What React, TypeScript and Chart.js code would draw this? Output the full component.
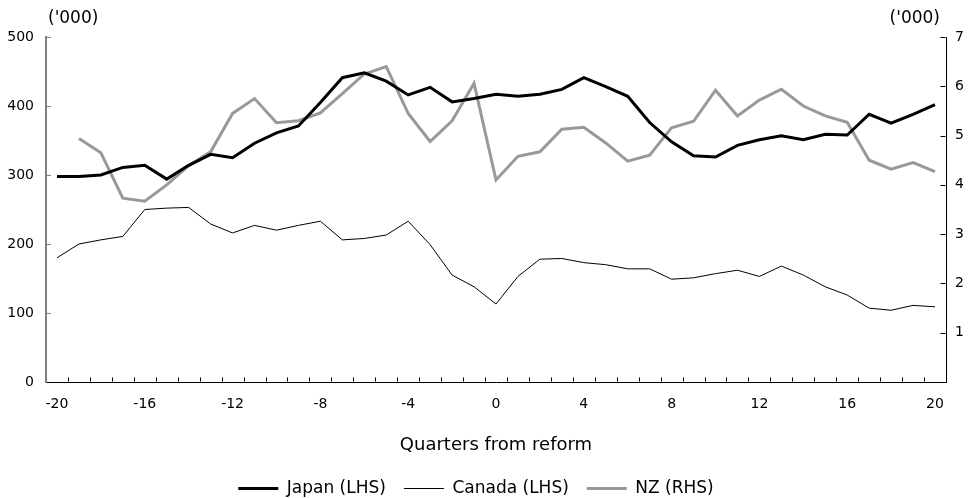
import React, { useEffect, useRef } from 'react';
import { Chart, registerables } from 'chart.js';

Chart.register(...registerables);

const quarters = [
  '-20', '-19', '-18', '-17', '-16', '-15', '-14', '-13', '-12', '-11', '-10',
  '-9', '-8', '-7', '-6', '-5', '-4', '-3', '-2', '-1', '0', '1', '2', '3', '4',
  '5', '6', '7', '8', '9', '10', '11', '12', '13', '14', '15', '16', '17', '18', '19', '20',
];

const japan = [
  298, 298, 300, 311, 314, 294, 314, 330, 325, 346, 361, 371, 405,
  441, 448, 436, 416, 427, 406, 411, 417, 414, 417, 424, 441, 428, 414, 376,
  348, 328, 326, 343, 351, 357, 351, 359, 358, 388, 375, 388, 402,
];

const canada = [
  180, 200, 206, 211, 250, 252, 253, 229, 216, 227, 220, 227, 233,
  206, 208, 213, 233, 199, 155, 138, 113, 153, 178, 179, 173, 170, 164, 164,
  149, 151, 157, 162, 153, 168, 155, 138, 126, 107, 104, 111, 109,
];

const nz = [
  null, 4.94, 4.65, 3.73, 3.67, 4.0, 4.39, 4.67, 5.45, 5.75, 5.26, 5.3, 5.46,
  5.85, 6.25, 6.4, 5.45, 4.88, 5.3, 6.06, 4.1, 4.58, 4.67, 5.13, 5.17, 4.85, 4.48, 4.6,
  5.16, 5.29, 5.92, 5.4, 5.72, 5.94, 5.6, 5.4, 5.27, 4.5, 4.32, 4.45, 4.27,
];

const leftTicks = [0, 100, 200, 300, 400, 500];
const rightTicks = [0, 1, 2, 3, 4, 5, 6, 7];
const unitLabel = "('000)";
const xTitle = 'Quarters from reform';
const seriesNames = ['Japan (LHS)', 'Canada (LHS)', 'NZ (RHS)'];

const FONT = "'DejaVu Sans', sans-serif";

const legendShift = {
  id: 'legendShift',
  afterLayout(chart: any) {
    if (chart.legend) {
      chart.legend.left -= 8;
      chart.legend.right -= 8;
    }
  },
};

const decorPlugin = {
  id: 'decor',
  afterDraw(chart: any) {
    const { ctx, chartArea, scales } = chart;
    const x = scales.x;
    const yl = scales.y;
    const yr = scales.y1;
    ctx.save();
    ctx.lineWidth = 1;
    ctx.strokeStyle = '#000';
    const b = Math.round(chartArea.bottom) - 0.5;
    for (let i = 0; i < quarters.length - 1; i++) {
      const px = Math.round((x.getPixelForValue(i) + x.getPixelForValue(i + 1)) / 2) + 0.5;
      ctx.beginPath();
      ctx.moveTo(px, b);
      ctx.lineTo(px, b - 4);
      ctx.stroke();
    }
    const l = chartArea.left;
    leftTicks.forEach((v) => {
      if (v === 0) return;
      const py = Math.round(yl.getPixelForValue(v)) + 0.5;
      ctx.strokeStyle = '#808080';
      ctx.beginPath();
      ctx.moveTo(l, py);
      ctx.lineTo(l + 5, py);
      ctx.stroke();
    });
    const r = Math.round(chartArea.right) - 0.5;
    rightTicks.forEach((v) => {
      if (v === 0) return;
      const py = Math.round(yr.getPixelForValue(v)) + 0.5;
      ctx.strokeStyle = '#000';
      ctx.beginPath();
      ctx.moveTo(r, py);
      ctx.lineTo(r - 5, py);
      ctx.stroke();
    });
    ctx.fillStyle = '#000';
    ctx.font = `17px ${FONT}`;
    ctx.textBaseline = 'middle';
    ctx.textAlign = 'left';
    ctx.fillText(unitLabel, chartArea.left + 2, 19);
    ctx.textAlign = 'right';
    ctx.fillText(unitLabel, chartArea.right - 6, 19);
    ctx.restore();
  },
};

export default function App() {
  const ref = useRef<HTMLCanvasElement | null>(null);

  useEffect(() => {
    if (!ref.current) return;
    Chart.defaults.font.family = FONT;
    const chart = new Chart(ref.current, {
      type: 'line',
      data: {
        labels: quarters,
        datasets: [
          {
            label: seriesNames[0],
            data: japan,
            borderColor: '#000000',
            backgroundColor: '#000000',
            borderWidth: 3,
            pointRadius: 0,
            tension: 0,
            yAxisID: 'y',
          },
          {
            label: seriesNames[1],
            data: canada,
            borderColor: '#000000',
            backgroundColor: '#000000',
            borderWidth: 1,
            pointRadius: 0,
            tension: 0,
            yAxisID: 'y',
          },
          {
            label: seriesNames[2],
            data: nz,
            borderColor: '#999999',
            backgroundColor: '#999999',
            borderWidth: 3,
            pointRadius: 0,
            tension: 0,
            yAxisID: 'y1',
          },
        ],
      },
      options: {
        animation: false,
        responsive: true,
        maintainAspectRatio: false,
        layout: { padding: { top: 37, left: 0, right: 0, bottom: 0 } },
        plugins: {
          tooltip: { enabled: false },
          legend: {
            display: true,
            position: 'bottom',
            labels: {
              usePointStyle: true,
              pointStyle: 'line',
              pointStyleWidth: 40,
              boxHeight: 17,
              padding: 18,
              color: '#000',
              font: { size: 17, family: FONT },
            },
          },
        },
        scales: {
          x: {
            type: 'category',
            offset: true,
            grid: { display: false, drawTicks: false },
            border: { display: true, color: '#000', width: 1 },
            ticks: {
              autoSkip: false,
              maxRotation: 0,
              minRotation: 0,
              padding: 14,
              color: '#000',
              font: { size: 14, family: FONT },
              callback: (_v: any, i: number) => (Number(quarters[i]) % 4 === 0 ? quarters[i] : ''),
            },
            title: {
              display: true,
              text: xTitle,
              color: '#000',
              font: { size: 18, family: FONT },
              padding: { top: 0, bottom: 6 },
            },
            afterFit: (s: any) => {
              s.height = 80;
            },
          },
          y: {
            type: 'linear',
            position: 'left',
            min: 0,
            max: 500,
            afterBuildTicks: (s: any) => {
              s.ticks = leftTicks.map((v) => ({ value: v }));
            },
            grid: { display: false, drawTicks: false },
            border: { display: true, color: '#808080', width: 2 },
            ticks: {
              padding: 12,
              color: '#000',
              font: { size: 14, family: FONT },
            },
            afterFit: (s: any) => {
              s.width = 46;
            },
          },
          y1: {
            type: 'linear',
            position: 'right',
            min: 0,
            max: 7,
            afterBuildTicks: (s: any) => {
              s.ticks = rightTicks.map((v) => ({ value: v }));
            },
            grid: { display: false, drawTicks: false },
            border: { display: true, color: '#000', width: 1 },
            ticks: {
              padding: 9,
              color: '#000',
              font: { size: 14, family: FONT },
              callback: (v: any) => (v === 0 ? '' : String(v)),
            },
            afterFit: (s: any) => {
              s.width = 22;
            },
          },
        },
      },
      plugins: [legendShift, decorPlugin],
    });
    return () => chart.destroy();
  }, []);

  return (
    <div
      style={{
        position: 'fixed',
        left: 0,
        top: 0,
        width: 968,
        height: 507,
        background: '#ffffff',
      }}
    >
      <canvas ref={ref} style={{ display: 'block' }} />
    </div>
  );
}
